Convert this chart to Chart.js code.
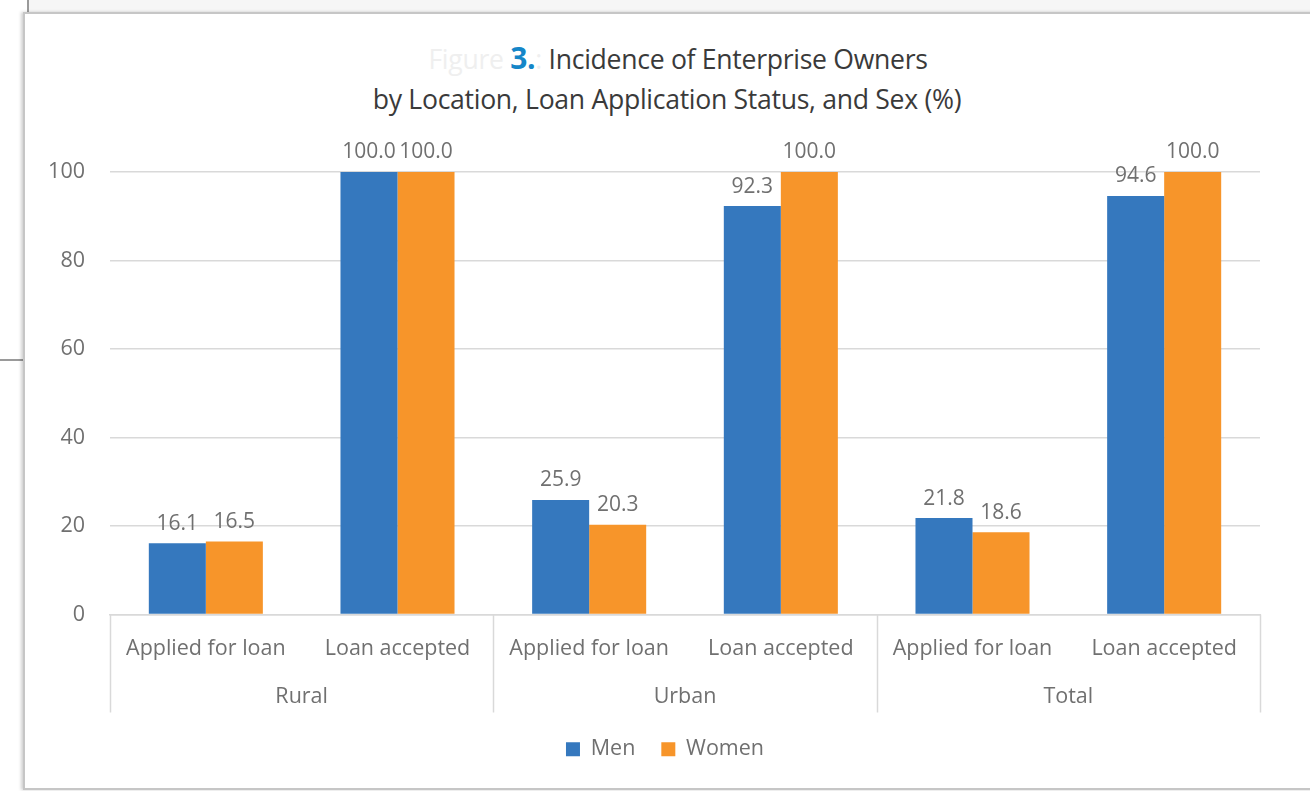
<!DOCTYPE html>
<html>
<head>
<meta charset="utf-8">
<script src="https://cdn.jsdelivr.net/npm/chart.js@4/dist/chart.umd.min.js"></script>
<style>
  html, body { margin: 0; padding: 0; background: #fff; overflow: hidden; }
  #back { position: absolute; left: 27px; top: -10px; width: 1400px; height: 22px; background: #f6f6f6; border-left: 2px solid #9a9a9a; }
  #hline { position: absolute; left: 0; top: 359px; width: 24px; height: 2px; background: #9a9a9a; }
  #card { position: absolute; left: 23px; top: 12px; width: 1400px; height: 774px; background: #fff;
          border: 2px solid #c6c6c6; box-shadow: -2px 0 3px rgba(0,0,0,0.18); }
  #title { position: absolute; left: 24px; width: 1286px; top: 38px; text-align: center;
           font-family: "Open Sans", sans-serif; font-size: 26.6px; color: #3a3a3a; line-height: 40px;
           letter-spacing: -0.3px; z-index: 2; }
  #title .line1 { padding-left: 22px; }
  #title .ghost { color: #efefef; }
  #title .num { color: #1586c8; font-weight: bold; font-size: 30px; }
  #wrap { position: absolute; left: 0; top: 0; width: 1310px; height: 791px; z-index: 3; }
</style>
</head>
<body>
<div id="back"></div>
<div id="hline"></div>
<div id="card"></div>
<div id="title">
  <div class="line1"><span class="ghost">Figure </span><span class="num">3.</span><span class="ghost">:</span> Incidence of Enterprise Owners</div>
  <div>by Location, Loan Application Status, and Sex (%)</div>
</div>
<div id="wrap"><canvas id="chart" width="1310" height="791"></canvas></div>
<script>
// data
const statusLabels = ['Applied for loan', 'Loan accepted', 'Applied for loan', 'Loan accepted', 'Applied for loan', 'Loan accepted'];
const locationGroups = ['Rural', 'Urban', 'Total'];
const menValues = [16.1, 100.0, 25.9, 92.3, 21.8, 94.6];
const womenValues = [16.5, 100.0, 20.3, 100.0, 18.6, 100.0];
const yTicks = [0, 20, 40, 60, 80, 100];

const textGray = '#707070';
const lineGray = '#d9d9d9';
const labelFont = { family: 'Open Sans', size: 21.5 };

// value labels above each bar
const valueLabels = {
    id: 'valueLabels',
    afterDatasetsDraw(chart) {
        const ctx = chart.ctx;
        ctx.save();
        ctx.font = '21px "Open Sans"';
        ctx.fillStyle = textGray;
        ctx.textAlign = 'center';
        ctx.textBaseline = 'bottom';
        chart.data.datasets.forEach((ds, i) => {
            chart.getDatasetMeta(i).data.forEach((bar, j) => {
                ctx.fillText(ds.data[j].toFixed(1), bar.x, bar.y - 9);
            });
        });
        ctx.restore();
    }
};

// vertical separators between location groups
const groupLines = {
    id: 'groupLines',
    afterDraw(chart) {
        const g = chart.scales.x2;
        const top = chart.chartArea.bottom;
        const bottom = g.bottom;
        const xs = [g.left];
        for (let i = 0; i < locationGroups.length - 1; i++) {
            xs.push((g.getPixelForValue(i) + g.getPixelForValue(i + 1)) / 2);
        }
        xs.push(g.right);
        const ctx = chart.ctx;
        ctx.save();
        ctx.strokeStyle = lineGray;
        ctx.lineWidth = 1.5;
        xs.forEach(x => {
            ctx.beginPath();
            ctx.moveTo(Math.round(x) + 0.5, top);
            ctx.lineTo(Math.round(x) + 0.5, bottom);
            ctx.stroke();
        });
        ctx.restore();
    }
};

// centre the legend under the whole card rather than the plot
const legendShift = {
    id: 'legendShift',
    afterLayout(chart) {
        if (chart.legend) chart.legend.left += 46;
    }
};

new Chart(document.getElementById('chart'), {
    type: 'bar',
    data: {
        labels: statusLabels,
        datasets: [
            { label: 'Men', data: menValues, backgroundColor: '#3578be', xAxisID: 'x' },
            { label: 'Women', data: womenValues, backgroundColor: '#f7952a', xAxisID: 'x' }
        ]
    },
    options: {
        responsive: false,
        animation: false,
        layout: { padding: { left: 24, right: 50, top: 172, bottom: 21 } },
        datasets: { bar: { categoryPercentage: 0.595, barPercentage: 1.0 } },
        scales: {
            x: {
                weight: 0,
                grid: { display: false },
                border: { display: true, color: lineGray, width: 1.5 },
                ticks: { color: textGray, font: labelFont, padding: 13, maxRotation: 0, autoSkip: false },
                afterFit: s => { s.height = 57; }
            },
            x2: {
                type: 'category',
                labels: locationGroups,
                position: 'bottom',
                display: true,
                offset: true,
                weight: 1,
                grid: { display: false },
                border: { display: false },
                ticks: { color: textGray, font: labelFont, padding: 4 },
                afterFit: s => { s.height = 41; }
            },
            y: {
                min: 0,
                max: 100,
                afterBuildTicks: s => { s.ticks = yTicks.map(v => ({ value: v })); },
                grid: { color: lineGray, lineWidth: 1.5, drawTicks: false },
                border: { display: false },
                ticks: { color: textGray, font: labelFont, padding: 25 },
                afterFit: s => { s.width = 86; }
            }
        },
        plugins: {
            legend: {
                position: 'bottom',
                labels: { color: textGray, font: labelFont, boxWidth: 14, boxHeight: 14, padding: 26 }
            },
            tooltip: { enabled: false },
            title: { display: false }
        }
    },
    plugins: [valueLabels, groupLines, legendShift]
});
</script>
</body>
</html>
